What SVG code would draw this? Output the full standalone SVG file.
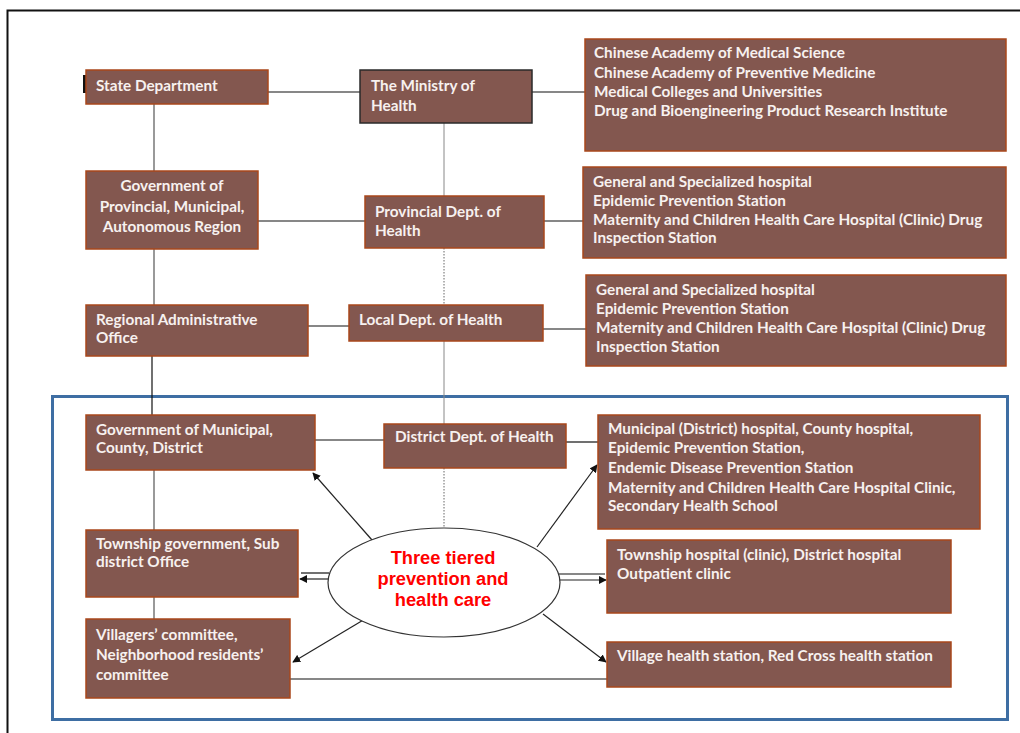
<svg xmlns="http://www.w3.org/2000/svg" width="1020" height="733" viewBox="0 0 1020 733">
<style>
.box{fill:#83574f;stroke:#a9471b;stroke-width:1.5}
.dark{fill:#83574f;stroke:#2a2a2a;stroke-width:1.5}
.t{font-family:Lato,"Liberation Sans",sans-serif;font-weight:bold;font-size:15.3px;fill:#f7f1ef}
.c{text-anchor:middle}
.ln{stroke:#111;stroke-width:1.2;fill:none}
.gl{stroke:#555;stroke-width:1.2;fill:none}
.vg{stroke:#888;stroke-width:1;fill:none}
.dot{stroke:#666;stroke-width:1;stroke-dasharray:1.5 1.5;fill:none}
.ar{stroke:#222;stroke-width:1.2;fill:none;marker-end:url(#ah)}
.red{font-family:"Liberation Sans",Arial,sans-serif;font-weight:bold;font-size:18.3px;fill:#ff0000;text-anchor:middle}
</style>
<defs>
<marker id="ah" viewBox="0 0 10 10" refX="9" refY="5" markerWidth="8" markerHeight="8" markerUnits="userSpaceOnUse" orient="auto">
<path d="M0,0 L10,5 L0,10 z" fill="#111"/>
</marker>
</defs>
<rect x="0" y="0" width="1020" height="733" fill="#fff"/>
<path d="M7.5,733 V10.5 H1022" stroke="#111" stroke-width="2" fill="none"/>
<rect x="52.5" y="396.5" width="955" height="323" fill="none" stroke="#3e6ea3" stroke-width="3"/>

<g id="connectors">
<line class="ln" x1="268" y1="92" x2="360" y2="92"/>
<line class="ln" x1="532" y1="92" x2="585" y2="92"/>
<line class="gl" x1="154" y1="104" x2="154" y2="171"/>
<line class="ln" x1="258" y1="221" x2="365" y2="221"/>
<line class="ln" x1="544" y1="221" x2="583" y2="221"/>
<line class="vg" x1="444" y1="123" x2="444" y2="196"/>
<line class="dot" x1="444" y1="248" x2="444" y2="305"/>
<line class="gl" x1="154" y1="249" x2="154" y2="305"/>
<line class="ln" x1="308" y1="326" x2="349" y2="326"/>
<line class="ln" x1="543" y1="329" x2="586" y2="329"/>
<line class="vg" x1="444" y1="341" x2="444" y2="424"/>
<line class="ln" x1="152" y1="356" x2="152" y2="415"/>
<line class="ln" x1="315" y1="440" x2="384" y2="440"/>
<line class="ln" x1="566" y1="442" x2="598" y2="442"/>
<line class="dot" x1="444" y1="468" x2="444" y2="528"/>
<line class="gl" x1="154" y1="470" x2="154" y2="530"/>
<line class="gl" x1="154" y1="597" x2="154" y2="619"/>
<line class="ln" x1="290" y1="679" x2="607" y2="679"/>
<line class="ar" x1="372" y1="540" x2="313" y2="473"/>
<line class="ar" x1="537" y1="547" x2="597" y2="465"/>
<line class="ln" x1="329" y1="573" x2="301" y2="573"/>
<line class="ar" x1="329" y1="579" x2="300" y2="579"/>
<line class="ln" x1="559" y1="574" x2="605" y2="574"/>
<line class="ar" x1="559" y1="580" x2="606" y2="580"/>
<line class="ar" x1="365" y1="619" x2="293" y2="662"/>
<line class="ar" x1="543" y1="614" x2="606" y2="662"/>
</g>

<rect x="83" y="75" width="3" height="18" fill="#111"/>

<g id="state-department">
<rect class="box" x="86" y="70" width="182" height="34"/>
<text class="t" x="96" y="91">State Department</text>
</g>
<g id="ministry">
<rect class="dark" x="360" y="70" width="172" height="53"/>
<text class="t" x="371" y="91">The Ministry of</text>
<text class="t" x="371" y="111">Health</text>
</g>
<g id="academies">
<rect class="box" x="585" y="39" width="421" height="112"/>
<text class="t" x="594" y="58">Chinese Academy of Medical Science</text>
<text class="t" x="594" y="78">Chinese Academy of Preventive Medicine</text>
<text class="t" x="594" y="97">Medical Colleges and Universities</text>
<text class="t" x="594" y="116">Drug and Bioengineering Product Research Institute</text>
</g>
<g id="gov-provincial">
<rect class="box" x="86" y="171" width="172" height="78"/>
<text class="t c" x="172" y="191">Government of</text>
<text class="t c" x="172" y="212">Provincial, Municipal,</text>
<text class="t c" x="172" y="232">Autonomous Region</text>
</g>
<g id="provincial-dept">
<rect class="box" x="365" y="196" width="179" height="52"/>
<text class="t" x="375" y="217">Provincial Dept. of</text>
<text class="t" x="375" y="236">Health</text>
</g>
<g id="provincial-institutions">
<rect class="box" x="583" y="167" width="423" height="91"/>
<text class="t" x="593" y="187">General and Specialized hospital</text>
<text class="t" x="593" y="206">Epidemic Prevention Station</text>
<text class="t" x="593" y="225">Maternity and Children Health Care Hospital (Clinic) Drug</text>
<text class="t" x="593" y="243">Inspection Station</text>
</g>
<g id="regional-office">
<rect class="box" x="86" y="305" width="222" height="51"/>
<text class="t" x="96" y="325">Regional Administrative</text>
<text class="t" x="96" y="343">Office</text>
</g>
<g id="local-dept">
<rect class="box" x="349" y="305" width="194" height="36"/>
<text class="t" x="359" y="325">Local Dept. of Health</text>
</g>
<g id="local-institutions">
<rect class="box" x="586" y="275" width="420" height="91"/>
<text class="t" x="596" y="295">General and Specialized hospital</text>
<text class="t" x="596" y="314">Epidemic Prevention Station</text>
<text class="t" x="596" y="333">Maternity and Children Health Care Hospital (Clinic) Drug</text>
<text class="t" x="596" y="352">Inspection Station</text>
</g>
<g id="gov-municipal">
<rect class="box" x="86" y="415" width="229" height="55"/>
<text class="t" x="96" y="435">Government of Municipal,</text>
<text class="t" x="96" y="453">County, District</text>
</g>
<g id="district-dept">
<rect class="box" x="384" y="424" width="182" height="44"/>
<text class="t" x="395" y="442">District Dept. of Health</text>
</g>
<g id="district-institutions">
<rect class="box" x="598" y="415" width="382" height="114"/>
<text class="t" x="608" y="434">Municipal (District) hospital, County hospital,</text>
<text class="t" x="608" y="453">Epidemic Prevention Station,</text>
<text class="t" x="608" y="473">Endemic Disease Prevention Station</text>
<text class="t" x="608" y="493">Maternity and Children Health Care Hospital Clinic,</text>
<text class="t" x="608" y="511">Secondary Health School</text>
</g>
<g id="township-gov">
<rect class="box" x="86" y="530" width="212" height="67"/>
<text class="t" x="96" y="549">Township government, Sub</text>
<text class="t" x="96" y="567">district Office</text>
</g>
<g id="villagers">
<rect class="box" x="86" y="619" width="204" height="79"/>
<text class="t" x="96" y="640">Villagers’ committee,</text>
<text class="t" x="96" y="660">Neighborhood residents’</text>
<text class="t" x="96" y="680">committee</text>
</g>
<g id="three-tier">
<ellipse cx="444" cy="582.5" rx="116" ry="54.5" fill="#fff" stroke="#333" stroke-width="1.2"/>
<text class="red" x="443" y="564">Three tiered</text>
<text class="red" x="443" y="585">prevention and</text>
<text class="red" x="443" y="606">health care</text>
</g>
<g id="township-hospital">
<rect class="box" x="607" y="540" width="344" height="73"/>
<text class="t" x="617" y="560">Township hospital (clinic),  District hospital</text>
<text class="t" x="617" y="579">Outpatient clinic</text>
</g>
<g id="village-station">
<rect class="box" x="607" y="642" width="344" height="45"/>
<text class="t" x="617" y="661">Village health station, Red Cross health station</text>
</g>
</svg>
